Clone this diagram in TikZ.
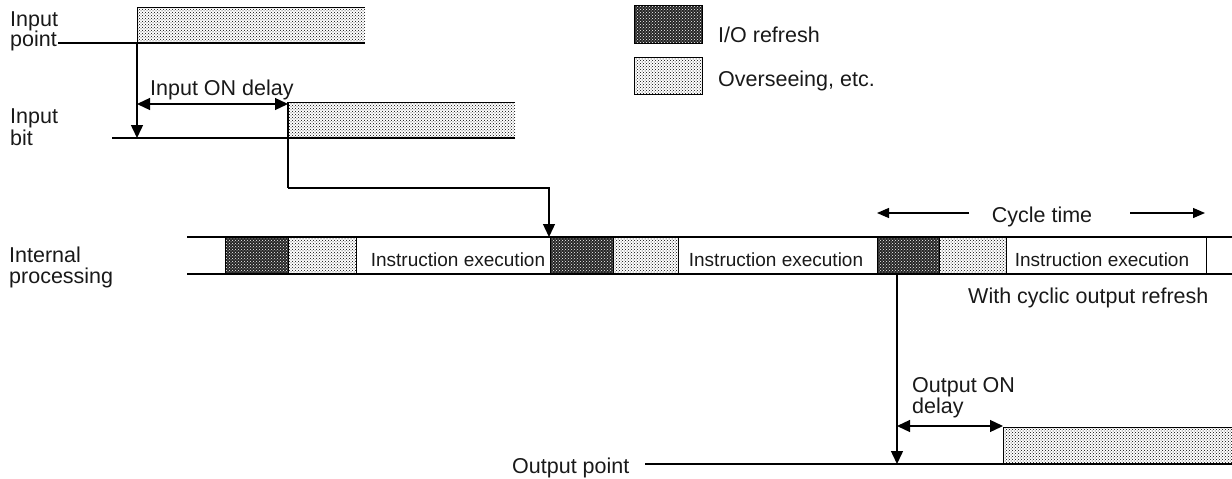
\documentclass[tikz,border=0pt]{standalone}
\usepackage{fontspec}
\setmainfont{Liberation Sans}
\usetikzlibrary{arrows.meta,patterns}
\begin{document}
\begin{tikzpicture}[x=1pt,y=-1pt,
  lbl/.style={font=\fontsize{21.5}{22}\selectfont, inner sep=0pt, text=black!90},
  ins/.style={font=\fontsize{19}{21}\selectfont, inner sep=0pt, text=black!90},
  thickln/.style={line width=2.2pt},
  edge/.style={line width=1pt},
  tip/.tip={Triangle[length=13pt,width=12pt]},
  arr/.style={line width=1.5pt, -tip},
  darr/.style={line width=1.3pt, tip-tip},
  lightfill/.style={pattern=crosshatch dots, pattern color=black},
  darkfill/.style={preaction={fill=black!85}, pattern=crosshatch dots, pattern color=white},
]
\useasboundingbox (0,0) rectangle (1232,479);

% ---------- Legend ----------
\draw[edge, darkfill] (634,5) rectangle (702,43);
\draw[edge, lightfill] (634,57) rectangle (702,94);
\node[lbl, anchor=base west] (lgio) at (718,42) {I/O refresh};
\node[lbl, anchor=base west] (lgov) at (718,86) {Overseeing, etc.};

% ---------- Input point ----------
\node[lbl, anchor=base west] (ip1) at (10,26) {Input};
\node[lbl, anchor=base west] (ip2) at (10,46) {point};
\coordinate (ipL) at (58,43);
\coordinate (ipOn) at (137,43);
\coordinate (ipTop) at (137,7);
\coordinate (ipR) at (365,43);
\coordinate (ipRT) at (365,7);
\fill[lightfill] (ipTop) rectangle (ipR);
\draw[edge] (ipOn) -- (ipTop) -- (ipRT);
\draw[thickln] (ipL) -- (ipR);

% ---------- Input bit ----------
\node[lbl, anchor=base west] (ib1) at (10,123) {Input};
\node[lbl, anchor=base west] (ib2) at (10,145) {bit};
\coordinate (ibL) at (112,138);
\coordinate (ibArr) at (137,138);
\coordinate (ibOn) at (288,138);
\coordinate (ibTop) at (288,102);
\coordinate (ibR) at (515,138);
\coordinate (ibRT) at (515,102);
\fill[lightfill] (ibTop) rectangle (ibR);
\draw[edge] (ibTop) -- (ibRT);
\draw[thickln] (ibL) -- (ibR);
\draw[arr] (ipOn) -- (ibArr);

% input ON delay
\coordinate (idA) at (137,104);
\coordinate (idB) at (288,104);
\draw[darr] (idA) -- (idB);
\node[lbl, anchor=base west] (idl) at (150,95) {Input ON delay};

% connector to internal processing
\coordinate (c1) at (288,188);
\coordinate (c2) at (549,188);
\coordinate (c3) at (549,237);
\draw[line width=1.3pt] (ibTop) -- (c1);
\draw[line width=1.3pt, -tip] (c1) -- (c2) -- (c3);

% ---------- Internal processing ----------
\node[lbl, anchor=base west] (ip3) at (9,262) {Internal};
\node[lbl, anchor=base west] (ip4) at (9,283) {processing};

\draw[edge, darkfill] (225,237) rectangle (288,274);
\draw[edge, lightfill] (288,237) rectangle (356,274);
\draw[edge, darkfill] (550,237) rectangle (613,274);
\draw[edge, lightfill] (613,237) rectangle (678,274);
\draw[edge, darkfill] (877,237) rectangle (939,274);
\draw[edge, lightfill] (939,237) rectangle (1006,274);
\draw[edge] (1206,237) -- (1206,274);

\coordinate (barTL) at (187,237);
\coordinate (barTR) at (1232,237);
\coordinate (barBL) at (187,274);
\coordinate (barBR) at (1232,274);
\draw[thickln] (barTL) -- (barTR);
\draw[thickln] (barBL) -- (barBR);

\node[ins, anchor=base] (ie1) at (458,266) {Instruction execution};
\node[ins, anchor=base] (ie2) at (776,266) {Instruction execution};
\node[ins, anchor=base] (ie3) at (1102,266) {Instruction execution};

% cycle time
\node[lbl, anchor=base] (ct) at (1042,222) {Cycle time};
\coordinate (ctL1) at (969,213);
\coordinate (ctL2) at (877,213);
\coordinate (ctR1) at (1130,213);
\coordinate (ctR2) at (1205,213);
\draw[line width=1.3pt, -{Triangle[length=12pt,width=10pt]}] (ctL1) -- (ctL2);
\draw[line width=1.3pt, -{Triangle[length=12pt,width=10pt]}] (ctR1) -- (ctR2);

\node[lbl, anchor=base west] (wc) at (968,303) {With cyclic output refresh};

% ---------- Output point ----------
\coordinate (oS) at (897,274);
\coordinate (oArr) at (897,464);
\coordinate (opL) at (645,464);
\coordinate (opOn) at (1003,464);
\coordinate (opTop) at (1003,427);
\coordinate (opR) at (1232,464);
\coordinate (opRT) at (1232,427);
\fill[lightfill] (opTop) rectangle (opR);
\draw[edge] (opOn) -- (opTop) -- (opRT);
\draw[thickln] (opL) -- (opR);
\draw[arr] (oS) -- (oArr);
\node[lbl, anchor=base west] (opl) at (512,473) {Output point};

\coordinate (odA) at (897,426);
\coordinate (odB) at (1003,426);
\draw[darr] (odA) -- (odB);
\node[lbl, font=\fontsize{21.5}{19}\selectfont, align=left, anchor=north west] (od) at (912,377) {Output ON\\delay};
\end{tikzpicture}
\end{document}
